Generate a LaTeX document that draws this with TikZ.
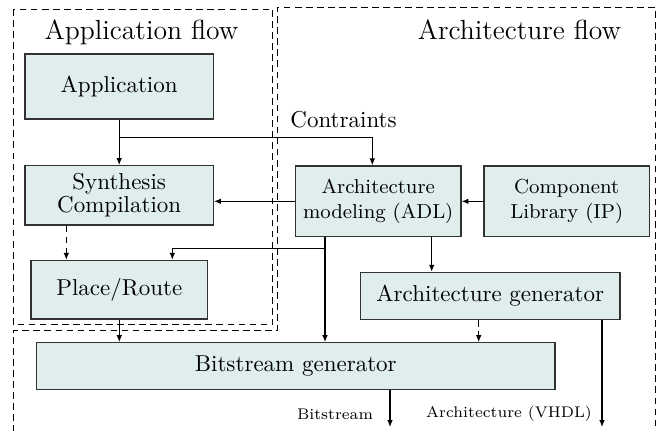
\documentclass[tikz,border=0pt]{standalone}
\usetikzlibrary{arrows.meta}
\newcommand\pxl{0.4348pt}
\definecolor{boxfill}{RGB}{223,237,237}
\definecolor{boxline}{RGB}{50,50,50}
\begin{document}
\begin{tikzpicture}[x=0.4348pt,y=-0.4348pt,
  blk/.style={draw=boxline,fill=boxfill,line width=0.5pt,inner sep=0pt,align=center,
    font=\fontsize{10}{10.2}\selectfont},
  blks/.style={blk,font=\fontsize{8.8}{10.9}\selectfont},
  arr/.style={line width=0.5pt,-{Latex[length=3pt,width=2.4pt]}},
  darr/.style={arr,dash pattern=on 2.9pt off 1.9pt},
  region/.style={line width=0.4pt,dash pattern=on 2.9pt off 1.9pt},
  title/.style={font=\fontsize{12}{14}\selectfont,anchor=base,inner sep=0pt},
  lbl/.style={font=\fontsize{6.7}{8}\selectfont,anchor=base,inner sep=0pt}]
\useasboundingbox (0,0) rectangle (659,430);
% regions
\draw[region] (13.3,9) rectangle (272.7,324.7);
\draw[region] (13.3,432) -- (13.3,330.7) -- (277.7,330.7) -- (277.7,7) -- (655,7) -- (655,432);
\node[title] (tapp) at (141.5,39.3) {Application flow};
\node[title] (tarch) at (519.5,39.3) {Architecture flow};
% blocks
\node[blk,minimum width=188.3*\pxl,minimum height=65*\pxl] (app) at (119.2,86.5) {Application};
\node[blk,minimum width=188.3*\pxl,minimum height=59.3*\pxl] (syn) at (119.2,195.3) {Synthesis\\Compilation};
\node[blk,minimum width=176.7*\pxl,minimum height=58.7*\pxl] (place) at (119.3,289.7) {Place/Route};
\node[blk,minimum width=518.3*\pxl,minimum height=46.6*\pxl] (bit) at (295.8,366) {Bitstream generator};
\node[blks,minimum width=165.5*\pxl,minimum height=70.7*\pxl] (adl) at (378.2,201.3) {Architecture\\modeling (ADL)};
\node[blks,minimum width=165.3*\pxl,minimum height=70.7*\pxl] (comp) at (566.7,201.3) {Component\\Library (IP)};
\node[blk,minimum width=259.3*\pxl,minimum height=47*\pxl] (ag) at (490.3,295.8) {Architecture generator};
% helper coordinates
\coordinate (xc) at (372.3,137.7);
\coordinate (x1) at (66.3,0);
\coordinate (x2) at (325,248.3);
\coordinate (x3) at (172.3,0);
\coordinate (x4) at (431.7,0);
\coordinate (x5) at (478.7,0);
\coordinate (x6) at (602,0);
\coordinate (x7) at (390,0);
\coordinate (o1) at (602,427);
\coordinate (o2) at (390,427);
% connectors
\draw[arr] (app.south) -- (syn.north);
\draw[arr] (app.south |- xc) -| (xc |- adl.north);
\node[font=\fontsize{10}{12}\selectfont,anchor=base west,inner sep=0pt] (cons) at (290,127.7) {Contraints};
\draw[arr] (adl.west) -- (adl.west -| syn.east);
\draw[arr] (comp.west) -- (comp.west -| adl.east);
\draw[darr] (syn.south -| x1) -- (place.north -| x1);
\draw[arr] (adl.south -| x2) -- (bit.north -| x2);
\draw[arr] (x2) -| (x3 |- place.north);
\draw[arr] (adl.south -| x4) -- (ag.north -| x4);
\draw[darr] (ag.south -| x5) -- (bit.north -| x5);
\draw[arr] (ag.south -| x6) -- (o1);
\draw[arr] (bit.south -| x7) -- (o2);
\draw[arr] (place.south) -- (place.south |- bit.north);
\node[lbl] (lb1) at (335,419) {Bitstream};
\node[lbl] (lb2) at (509,417.5) {Architecture (VHDL)};
\end{tikzpicture}
\end{document}
